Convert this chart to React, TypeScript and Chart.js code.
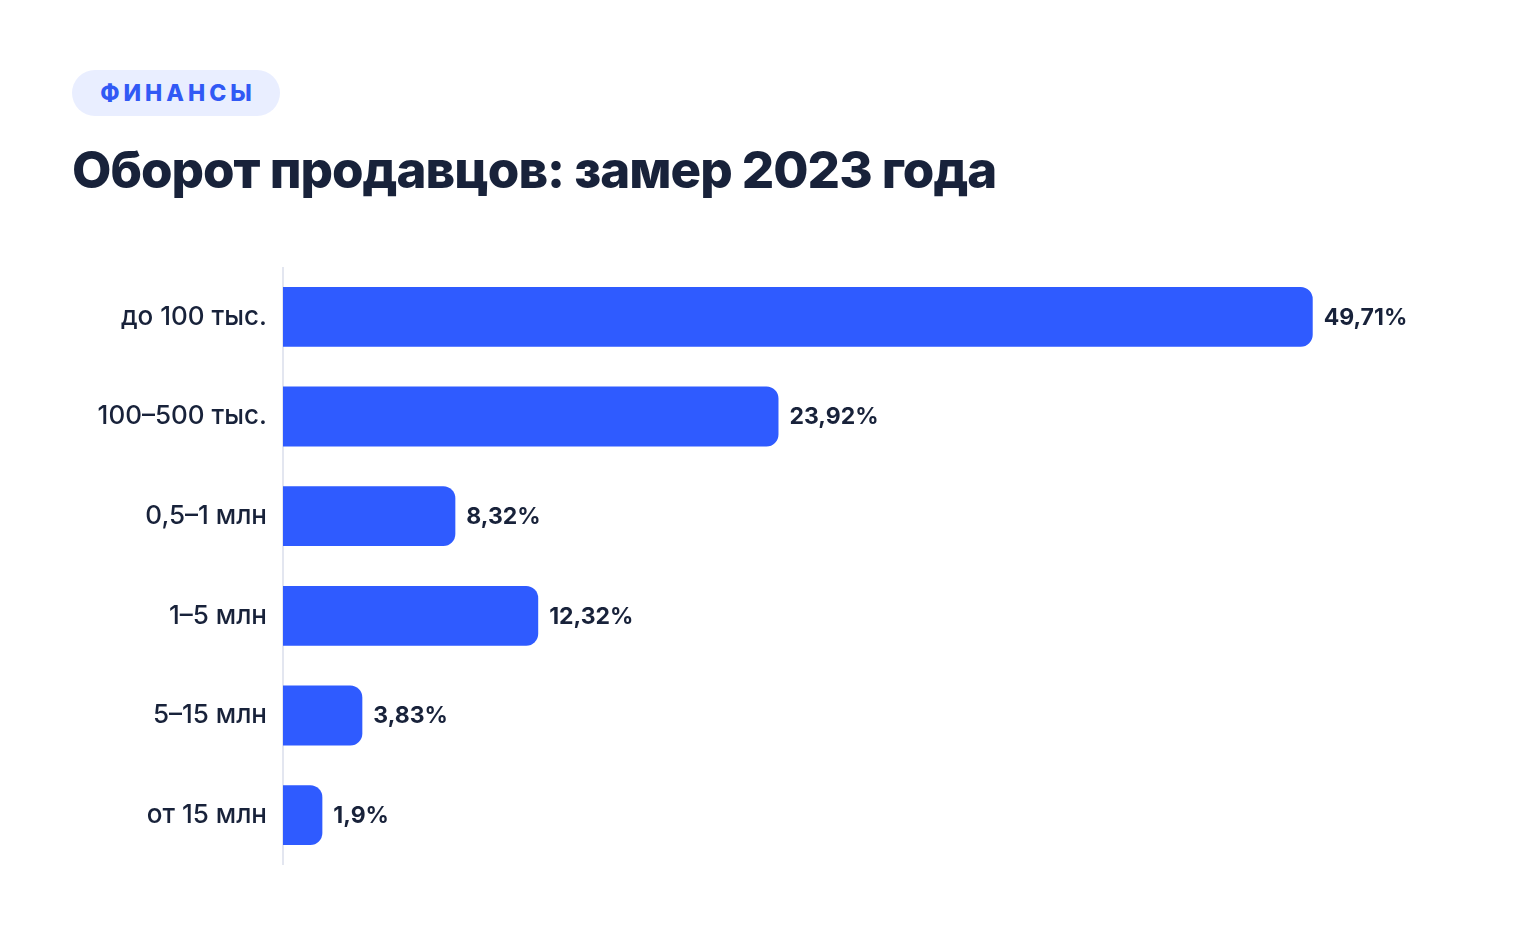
import { useEffect, useRef } from "react";
import { Chart, registerables, Plugin } from "chart.js";

Chart.register(...registerables);

const categories = ["до 100 тыс.", "100–500 тыс.", "0,5–1 млн", "1–5 млн", "5–15 млн", "от 15 млн"];
const shares = [49.71, 23.92, 8.32, 12.32, 3.83, 1.9];
const shareLabels = ["49,71%", "23,92%", "8,32%", "12,32%", "3,83%", "1,9%"];

const BLUE = "#2f5bff";
const INK = "#18223a";

// value labels to the right of each bar
const valueLabels: Plugin<"bar"> = {
  id: "valueLabels",
  afterDatasetsDraw(chart) {
    const { ctx } = chart;
    const meta = chart.getDatasetMeta(0);
    ctx.save();
    ctx.font = "700 23px Inter";
    ctx.fillStyle = INK;
    ctx.textBaseline = "middle";
    ctx.textAlign = "left";
    meta.data.forEach((bar, i) => {
      ctx.fillText(shareLabels[i], bar.x + 11, bar.y + 1);
    });
    ctx.restore();
  },
};

export default function App() {
  const canvasRef = useRef<HTMLCanvasElement>(null);
  const chartRef = useRef<Chart | null>(null);

  useEffect(() => {
    if (!canvasRef.current) return;
    const ctx = canvasRef.current.getContext("2d");
    if (!ctx) return;
    chartRef.current?.destroy();

    chartRef.current = new Chart(ctx, {
      type: "bar",
      data: {
        labels: categories,
        datasets: [
          {
            data: shares,
            backgroundColor: BLUE,
            borderRadius: 12,
            barPercentage: 0.6,
            categoryPercentage: 1,
          },
        ],
      },
      options: {
        indexAxis: "y",
        animation: false,
        responsive: true,
        maintainAspectRatio: false,
        layout: { padding: 0 },
        plugins: {
          legend: { display: false },
          tooltip: { enabled: false },
        },
        scales: {
          x: {
            display: false,
            min: 0,
            max: 56,
          },
          y: {
            afterFit: (scale) => {
              scale.width = 283;
              scale.paddingTop = 0;
              scale.paddingBottom = 0;
            },
            grid: { display: false, drawTicks: false },
            border: { display: true, color: "#e3e6f0", width: 2 },
            ticks: {
              color: INK,
              padding: 16,
              font: { family: "Inter", size: 26, weight: 500 },
            },
          },
        },
      },
      plugins: [valueLabels],
    });

    return () => {
      chartRef.current?.destroy();
      chartRef.current = null;
    };
  }, []);

  return (
    <div
      style={{
        position: "fixed",
        left: 0,
        top: 0,
        width: 1520,
        height: 952,
        background: "#fff",
        fontFamily: "Inter, sans-serif",
      }}
    >
      <div
        style={{
          position: "absolute",
          left: 72,
          top: 70,
          width: 208,
          height: 46,
          borderRadius: 23,
          background: "#e9eeff",
          color: "#3159f5",
          fontWeight: 800,
          fontSize: 23,
          letterSpacing: 4,
          paddingLeft: 4,
          boxSizing: "border-box",
          display: "flex",
          alignItems: "center",
          justifyContent: "center",
        }}
      >
        ФИНАНСЫ
      </div>
      <div
        style={{
          position: "absolute",
          left: 72,
          top: 138,
          fontSize: 51,
          fontWeight: 800,
          letterSpacing: -1,
          color: INK,
          lineHeight: "64px",
          whiteSpace: "nowrap",
        }}
      >
        Оборот продавцов: замер 2023 года
      </div>
      <div style={{ position: "absolute", left: 0, top: 267, width: 1443, height: 598 }}>
        <canvas ref={canvasRef} />
      </div>
    </div>
  );
}
